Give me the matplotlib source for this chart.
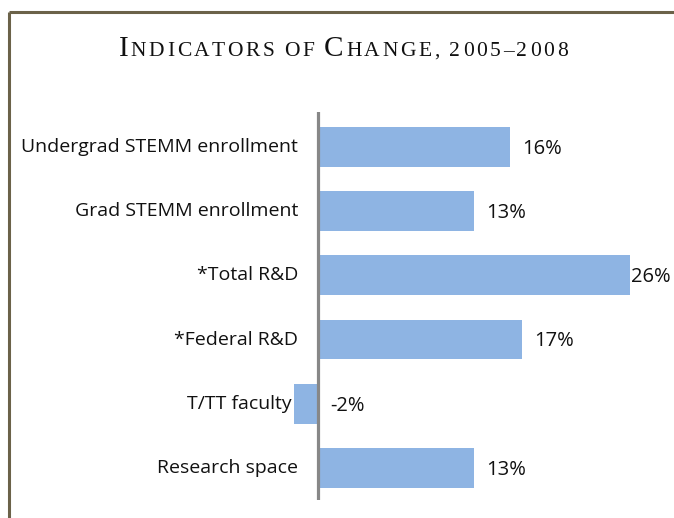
import matplotlib.pyplot as plt
from matplotlib.lines import Line2D

categories = ["Undergrad STEMM enrollment", "Grad STEMM enrollment", "*Total R&D",
              "*Federal R&D", "T/TT faculty", "Research space"]
values = [16, 13, 26, 17, -2, 13]
value_labels = ["16%", "13%", "26%", "17%", "-2%", "13%"]

# title pieces for fake small caps: (text, is_big)
title_parts = [("I", True), ("NDICATORS OF ", False), ("C", True), ("HANGE", False),
               (", 2005\u20132008", False)]

W, H = 674, 518
fig = plt.figure(figsize=(W / 100, H / 100), dpi=100)

# olive frame on top and left
frame_col = "#6b6249"
fig.add_artist(Line2D([9 / W, 1], [1 - 12 / H, 1 - 12 / H], color=frame_col, lw=2.2,
                      transform=fig.transFigure, solid_capstyle="butt"))
fig.add_artist(Line2D([9 / W, 9 / W], [0, 1 - 12 / H], color=frame_col, lw=2.2,
                      transform=fig.transFigure, solid_capstyle="butt"))

ax = fig.add_axes([294 / W, 18 / H, 360 / W, 388 / H])
ypos = list(range(len(categories)))
ax.barh(ypos, values, height=0.62, color="#8eb4e3")
ax.axvline(0, color="#878787", lw=2.3)
ax.set_xlim(-2, 28)
ax.set_ylim(5.5, -0.545)
ax.axis("off")

sans = ["Open Sans", "DejaVu Sans"]
for y, cat, v, lab in zip(ypos, categories, values, value_labels):
    lx = -2.2 if v < 0 else -1.65
    ax.text(lx, y, cat, ha="right", va="center", clip_on=False,
            family=sans, fontsize=14, color="#111111")
    vx = min(max(v, 0) + 1, 26.1)
    ax.text(vx, y + 0.03, lab, ha="left", va="center", clip_on=False,
            family=sans, fontsize=14.5, color="#111111")

# title in small caps, one glyph at a time so letters can be spaced out
serif = ["Liberation Serif", "DejaVu Serif"]
base_y = 1 - 56 / H
glyphs = []
for txt, big in title_parts:
    size = 21 if big else 15.5
    for ch in txt.upper():
        t = fig.text(0, base_y, ch, fontsize=size, family=serif, color="#111111",
                     ha="left", va="baseline")
        glyphs.append((t, ch, size))

fig.canvas.draw()
r = fig.canvas.get_renderer()
track = 2.6
advances = []
for t, ch, size in glyphs:
    if ch == " ":
        w = size * 0.3
    else:
        w = t.get_window_extent(r).width
    advances.append(w + track)
total = sum(advances) - track
x = 343 - total / 2
for (t, ch, size), adv in zip(glyphs, advances):
    t.set_position((x / W, base_y))
    x += adv

fig.savefig("out.png", dpi=100)
